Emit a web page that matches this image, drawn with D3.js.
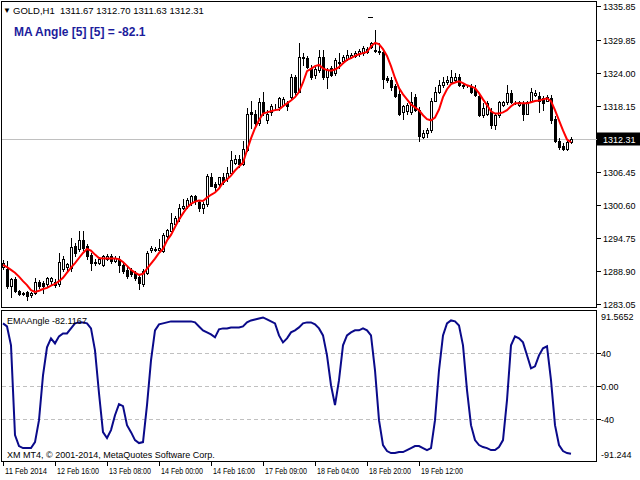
<!DOCTYPE html>
<html><head><meta charset="utf-8">
<script src="https://cdn.jsdelivr.net/npm/d3@7"></script>
<style>html,body{margin:0;padding:0;background:#fff;overflow:hidden}svg{display:block}text{font-family:"Liberation Sans",Arial,sans-serif}</style>
</head><body><svg id="c" width="640" height="480"></svg>
<script>
const headerText = "GOLD,H1  1311.67 1312.70 1311.63 1312.31";
const maTitle = "MA Angle [5] [5] = -82.1";
const subTitle = "EMAAngle -82.1167";
const copyright = "XM MT4, \u00a9 2001-2014, MetaQuotes Software Corp.";
const lastPrice = 1312.31;

const open = [1289.6,1289.3,1286.3,1287.5,1285.4,1284.8,1285.2,1284.7,1285.0,1287.0,
1286.8,1286.6,1287.1,1287.0,1286.6,1289.3,1289.6,1289.5,1293.4,1292.8,
1294.4,1293.4,1291.8,1290.5,1290.3,1290.0,1291.1,1291.6,1290.7,1291.1,
1290.0,1289.1,1289.1,1288.6,1287.9,1286.6,1288.6,1292.7,1292.8,1292.7,
1292.5,1295.1,1296.0,1297.3,1298.2,1300.1,1300.5,1301.0,1302.1,1301.2,
1300.1,1300.8,1305.6,1304.4,1304.4,1305.5,1305.3,1306.3,1308.1,1308.8,
1307.9,1310.3,1317.0,1316.8,1315.1,1318.8,1315.6,1317.0,1317.9,1317.9,
1318.3,1318.6,1319.7,1323.2,1320.7,1326.8,1326.6,1324.8,1323.6,1324.5,
1326.8,1323.2,1324.8,1323.9,1325.9,1326.1,1326.4,1326.8,1327.0,1327.3,
1327.5,1327.7,1328.6,1328.0,1327.9,1327.7,1323.1,1322.7,1321.6,1320.2,
1317.0,1317.2,1317.0,1319.7,1317.4,1312.7,1313.3,1313.8,1319.1,1320.6,
1321.8,1322.3,1322.3,1322.7,1323.2,1321.8,1321.6,1321.6,1321.1,1319.9,
1316.5,1316.8,1317.0,1314.7,1316.5,1318.3,1318.8,1320.4,1318.8,1318.3,
1318.6,1316.8,1319.1,1320.0,1319.9,1319.5,1319.1,1319.5,1315.9,1312.0,
1311.1,1310.6,1311.67];
const high = [1290.9,1290.7,1287.7,1287.9,1285.5,1285.2,1285.4,1285.2,1287.7,1287.3,
1287.1,1287.9,1287.9,1287.5,1292.1,1291.6,1290.3,1294.8,1293.9,1295.9,
1296.0,1293.7,1292.1,1291.1,1291.4,1291.8,1291.9,1291.9,1291.6,1291.6,
1290.3,1289.6,1289.5,1288.9,1288.4,1289.3,1292.5,1293.4,1293.2,1294.6,
1295.7,1296.4,1299.2,1298.7,1300.8,1301.7,1301.9,1302.4,1302.4,1301.5,
1301.2,1306.0,1306.2,1304.7,1305.6,1306.3,1307.4,1310.1,1309.4,1309.4,
1311.9,1317.7,1319.1,1317.4,1319.5,1320.6,1317.4,1318.4,1318.4,1319.7,
1319.7,1319.0,1323.8,1323.6,1329.3,1327.5,1327.0,1325.4,1325.0,1328.0,
1328.0,1324.8,1325.2,1326.6,1327.5,1327.1,1328.0,1327.5,1327.9,1328.2,
1328.7,1328.6,1329.5,1331.6,1329.3,1328.0,1323.4,1323.2,1322.0,1320.9,
1318.3,1318.6,1320.6,1320.2,1317.9,1313.8,1314.2,1319.5,1321.5,1322.7,
1323.2,1323.4,1324.5,1323.9,1323.8,1322.2,1321.8,1322.0,1321.8,1320.2,
1318.6,1319.0,1317.7,1316.8,1319.1,1319.1,1321.8,1320.9,1319.1,1319.1,
1319.1,1319.1,1321.3,1320.9,1320.6,1319.9,1320.0,1320.0,1316.3,1312.4,
1311.5,1311.9,1312.70];
const low = [1289.3,1285.9,1284.3,1285.2,1284.7,1284.7,1283.8,1284.3,1284.8,1285.9,
1285.0,1286.3,1286.4,1286.1,1286.3,1288.9,1288.7,1288.9,1291.6,1292.5,
1292.7,1291.1,1289.1,1290.0,1290.2,1289.8,1290.9,1290.3,1290.5,1288.7,
1288.6,1287.7,1288.0,1287.3,1285.7,1286.3,1288.4,1292.3,1292.5,1292.5,
1292.3,1294.8,1295.9,1296.9,1297.8,1299.8,1300.1,1300.6,1300.8,1299.6,
1299.2,1300.5,1303.9,1303.3,1304.0,1304.4,1304.9,1306.0,1307.9,1307.4,
1307.6,1310.1,1314.3,1314.7,1314.7,1316.5,1315.2,1316.6,1317.5,1317.5,
1318.1,1317.4,1319.3,1320.2,1320.6,1325.4,1324.8,1322.9,1323.1,1324.1,
1322.9,1321.3,1323.4,1323.6,1324.8,1325.7,1326.3,1326.6,1326.8,1327.0,
1327.1,1327.5,1328.4,1327.7,1327.3,1321.3,1322.3,1320.9,1319.7,1316.5,
1315.8,1316.8,1316.7,1317.2,1312.0,1312.4,1312.6,1313.5,1319.0,1320.4,
1321.5,1322.0,1322.2,1322.5,1321.6,1321.3,1321.5,1320.4,1319.9,1316.3,
1316.1,1316.5,1314.2,1314.0,1316.1,1318.1,1318.4,1318.6,1318.4,1318.1,
1315.6,1316.7,1319.0,1319.9,1317.0,1317.4,1319.0,1315.2,1311.7,1310.6,
1310.3,1310.4,1311.63];
const close = [1290.3,1286.3,1287.5,1285.4,1284.8,1285.0,1284.5,1285.0,1287.0,1286.3,
1286.3,1287.7,1287.7,1286.4,1290.5,1291.1,1290.2,1293.2,1292.1,1294.4,
1293.0,1291.6,1290.3,1290.4,1291.1,1291.6,1291.6,1290.7,1291.2,1290.0,
1288.9,1288.0,1288.4,1287.7,1286.8,1288.9,1292.1,1293.0,1292.7,1293.0,
1295.3,1296.2,1297.4,1298.3,1300.1,1300.5,1301.4,1302.1,1301.4,1300.1,
1300.8,1305.8,1304.0,1303.7,1305.5,1304.6,1306.3,1308.5,1308.8,1307.9,
1310.6,1316.8,1316.7,1315.2,1318.8,1317.0,1316.8,1318.1,1318.0,1319.5,
1319.3,1318.1,1323.2,1320.7,1326.8,1326.6,1325.0,1323.2,1324.7,1326.8,
1323.2,1324.5,1323.6,1326.3,1325.8,1326.8,1327.1,1327.2,1327.5,1327.9,
1328.4,1328.2,1329.3,1327.9,1327.7,1323.0,1322.7,1321.5,1319.9,1316.8,
1318.1,1318.3,1318.8,1317.4,1312.9,1313.3,1313.8,1319.1,1320.7,1321.8,
1322.3,1322.7,1323.2,1323.3,1321.8,1321.6,1321.7,1320.6,1320.0,1316.5,
1317.7,1318.6,1314.7,1316.5,1318.8,1318.8,1320.4,1318.8,1318.9,1318.8,
1316.8,1318.8,1320.6,1320.5,1319.0,1318.6,1319.7,1315.6,1312.0,1310.9,
1310.6,1311.7,1312.31];
const maLine = [1290.0,1289.6,1289.1,1288.6,1287.9,1287.1,1286.4,1285.5,1285.2,1285.4,
1285.7,1285.9,1286.3,1286.6,1287.1,1287.7,1288.6,1289.5,1290.3,1291.2,
1292.1,1292.8,1292.5,1291.8,1291.2,1291.1,1291.1,1291.1,1291.1,1291.0,
1290.5,1289.8,1289.1,1288.6,1288.2,1288.4,1289.3,1290.2,1291.1,1292.1,
1292.8,1294.3,1295.3,1296.7,1298.0,1299.1,1300.1,1300.8,1301.2,1301.4,
1301.3,1301.9,1302.4,1302.8,1303.5,1304.6,1305.1,1305.8,1306.7,1307.4,
1308.1,1310.3,1312.4,1314.2,1315.6,1316.8,1317.0,1317.2,1317.4,1317.5,
1318.1,1318.6,1319.1,1319.7,1320.6,1322.3,1324.3,1324.7,1325.2,1325.4,
1324.8,1324.5,1324.4,1324.6,1325.0,1325.7,1326.3,1326.6,1327.0,1327.3,
1327.5,1327.7,1328.7,1329.3,1329.1,1328.2,1327.0,1325.2,1323.1,1321.3,
1320.2,1319.3,1318.4,1317.9,1317.4,1316.5,1315.8,1315.6,1316.1,1317.5,
1319.7,1321.1,1322.0,1322.3,1322.5,1322.2,1321.8,1321.6,1321.3,1320.4,
1319.3,1318.3,1317.2,1316.8,1316.8,1317.0,1317.4,1318.1,1318.6,1318.6,
1318.6,1318.6,1318.8,1319.0,1319.1,1319.3,1319.5,1319.0,1317.4,1315.6,
1313.8,1312.2,1311.7];
const emaAngle = [76.4,72.7,49.7,-59.4,-72.7,-75.2,-75.2,-75.2,-67.9,-41.2,
13.3,47.3,58.2,52.1,60.6,64.2,64.2,70.3,76.4,77.6,
77.6,76.4,70.3,43.6,-8.5,-55.8,-63.0,-53.3,-35.2,-21.8,
-24.2,-47.3,-55.8,-65.5,-69.1,-67.9,-23.0,31.5,67.9,75.2,
76.4,77.6,78.8,78.8,78.8,78.8,78.8,78.8,77.6,72.7,
67.9,65.5,63.0,59.4,69.1,70.3,70.3,71.5,71.5,71.5,
72.7,77.6,80.0,81.2,82.4,83.6,81.2,78.8,76.4,61.8,
53.3,58.2,65.5,67.9,71.5,76.4,77.6,77.6,75.2,70.3,
61.8,37.6,1.2,-23.0,7.3,49.7,61.8,65.5,67.9,67.9,
70.3,67.9,61.8,19.4,-41.2,-71.5,-78.8,-81.2,-81.2,-80.0,
-80.0,-77.6,-75.2,-72.7,-72.7,-75.2,-77.6,-75.2,-41.2,19.4,
61.8,76.4,80.0,78.8,73.9,49.7,-4.8,-47.3,-65.5,-71.5,
-73.9,-75.2,-77.6,-77.6,-73.9,-65.5,-17.0,49.7,60.6,58.2,
53.3,37.6,21.8,24.2,37.6,46.1,48.5,7.3,-47.3,-71.5,
-78.8,-81.2,-82.1167];

const priceTicks = [1335.85,1329.85,1324.00,1318.15,1306.45,1300.60,1294.75,1288.90,1283.05];
const angleExtent = [-91.244, 91.5652];
const angleLevels = [40, 0, -40];
const angleLabels = ["40", "0.00", "-40"];
const timeIdx = [0,13,26,39,52,65,78,91,104];
const timeText = ["11 Feb 2014","12 Feb 16:00","13 Feb 08:00","14 Feb 00:00","14 Feb 16:00","17 Feb 09:00","18 Feb 04:00","18 Feb 20:00","19 Feb 12:00"];

const svg = d3.select("#c");
const n = close.length;
const L = 1.5, R = 596.5;
const x = d3.scaleLinear().domain([0, n - 1]).range([3, 571]);
const y = d3.scaleLinear().domain([1283.05, 1335.85]).range([304, 6]);
const ya = d3.scaleLinear().domain(angleExtent).range([461.3, 310.9]);
const F = 9;

// frames
svg.append("rect").attr("x", L).attr("y", 1.5).attr("width", R - L).attr("height", 306)
  .attr("fill", "none").attr("stroke", "#000").attr("shape-rendering", "crispEdges");
svg.append("rect").attr("x", L).attr("y", 310.5).attr("width", R - L).attr("height", 151)
  .attr("fill", "none").attr("stroke", "#000").attr("shape-rendering", "crispEdges");

// price axis
const pa = svg.append("g");
priceTicks.forEach(p => {
  const yy = Math.round(y(p)) + 0.5;
  pa.append("line").attr("x1", R).attr("x2", R + 4).attr("y1", yy).attr("y2", yy).attr("stroke", "#000").attr("shape-rendering", "crispEdges");
  pa.append("text").attr("x", 603).attr("y", yy + 3.5).attr("font-size", F).text(p.toFixed(2));
});

// current price line
const yl = Math.round(y(lastPrice)) + 0.5;
svg.append("line").attr("x1", L).attr("x2", R).attr("y1", yl).attr("y2", yl).attr("stroke", "#c0c0c0").attr("shape-rendering", "crispEdges");

// candles
const cg = svg.append("g").attr("shape-rendering", "crispEdges");
d3.range(n).forEach(i => {
  const xi = Math.round(x(i));
  cg.append("line").attr("x1", xi + 0.5).attr("x2", xi + 0.5)
    .attr("y1", Math.round(y(high[i]))).attr("y2", Math.round(y(low[i])) + 1).attr("stroke", "#000");
  const t = Math.round(y(Math.max(open[i], close[i])));
  const b = Math.round(y(Math.min(open[i], close[i])));
  const bull = close[i] >= open[i];
  cg.append("rect").attr("x", xi - 0.5).attr("y", t + 0.5).attr("width", 2).attr("height", Math.max(b - t, 0))
    .attr("fill", bull ? "#fff" : "#000").attr("stroke", "#000");
});

// MA line
svg.append("path").datum(maLine)
  .attr("d", d3.line().x((d, i) => x(i)).y(d => y(d)))
  .attr("fill", "none").attr("stroke", "#ff0000").attr("stroke-width", 2);

// current price label
svg.append("rect").attr("x", 597).attr("y", yl - 7).attr("width", 43).attr("height", 13).attr("fill", "#000");
svg.append("text").attr("x", 603).attr("y", yl + 3.5).attr("font-size", F).attr("fill", "#fff").text(lastPrice.toFixed(2));

// small marker above high
svg.append("line").attr("x1", 368).attr("x2", 373).attr("y1", 17.5).attr("y2", 17.5).attr("stroke", "#000").attr("shape-rendering", "crispEdges");

// headers
svg.append("text").attr("x", 3).attr("y", 13).attr("font-size", 8).text("\u25BC");
svg.append("text").attr("x", 13).attr("y", 13.5).attr("font-size", 9.5).style("white-space", "pre").text(headerText);
svg.append("text").attr("x", 14).attr("y", 36).attr("font-size", 12).attr("font-weight", "bold").attr("fill", "#1c1c9c").text(maTitle);

// sub panel levels
const sg = svg.append("g");
angleLevels.forEach((v, k) => {
  const yy = Math.round(ya(v)) + 0.5;
  sg.append("line").attr("x1", L).attr("x2", R).attr("y1", yy).attr("y2", yy)
    .attr("stroke", "#c0c0c0").attr("stroke-dasharray", "4,3").attr("shape-rendering", "crispEdges");
  sg.append("line").attr("x1", R).attr("x2", R + 4).attr("y1", yy).attr("y2", yy).attr("stroke", "#000").attr("shape-rendering", "crispEdges");
  sg.append("text").attr("x", 601).attr("y", yy + 3.5).attr("font-size", F).text(angleLabels[k]);
});
sg.append("text").attr("x", 601).attr("y", 320).attr("font-size", F).text(angleExtent[1].toString());
sg.append("text").attr("x", 601).attr("y", 458).attr("font-size", F).text(angleExtent[0].toString());

svg.append("path").datum(emaAngle)
  .attr("d", d3.line().x((d, i) => x(i)).y(d => ya(d)))
  .attr("fill", "none").attr("stroke", "#0a0a8a").attr("stroke-width", 2);

svg.append("text").attr("x", 7).attr("y", 323.5).attr("font-size", F).text(subTitle);
svg.append("text").attr("x", 7).attr("y", 458).attr("font-size", F).text(copyright);

// time axis
const tg = svg.append("g");
timeIdx.forEach((i, k) => {
  const xi = Math.round(x(i)) + 0.5;
  tg.append("line").attr("x1", xi).attr("x2", xi).attr("y1", 462).attr("y2", 466).attr("stroke", "#000").attr("shape-rendering", "crispEdges");
  tg.append("text").attr("x", xi + 1.5).attr("y", 474).attr("font-size", F)
    .attr("textLength", 42).attr("lengthAdjust", "spacingAndGlyphs").text(timeText[k]);
});
</script></body></html>
